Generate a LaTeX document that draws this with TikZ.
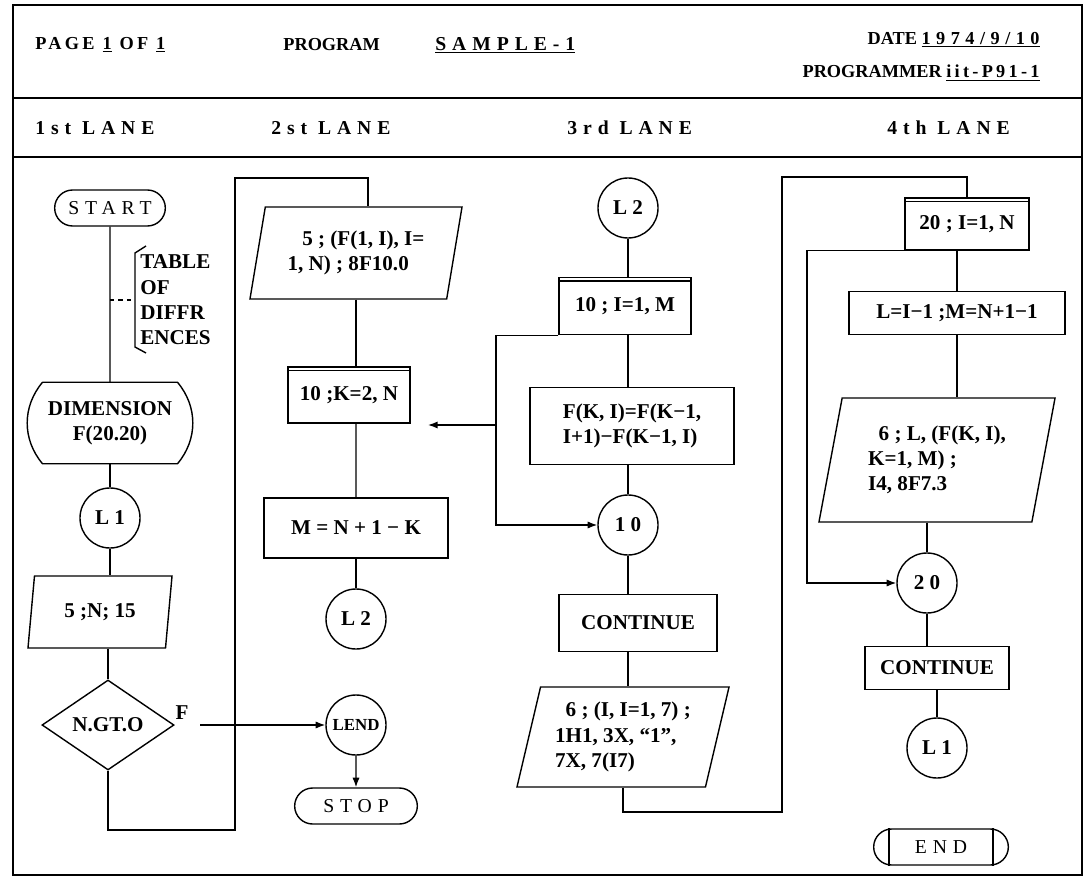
\documentclass[tikz,border=0pt]{standalone}
\usepackage{fontspec}
\setmainfont{Liberation Serif}
\newfontfamily\wide[LetterSpace=30]{Liberation Serif}
\newfontfamily\semiwide[LetterSpace=18]{Liberation Serif}
\usetikzlibrary{shapes.geometric,shapes.misc,arrows.meta}

\begin{document}
\begin{tikzpicture}[x=0.025cm,y=-0.025cm,line width=1pt,
    font=\fontsize{15}{18}\selectfont\bfseries,
    >={Latex[length=2.4mm,width=1.8mm]},
    term/.style={draw,rounded rectangle,minimum width=#1,minimum height=0.9cm,
      font=\wide\fontsize{14}{16}\selectfont},
    conn/.style={draw,circle,minimum size=1.5cm,inner sep=0pt},
    proc/.style 2 args={draw,minimum width=#1,minimum height=#2,inner sep=2pt},
    io/.style 2 args={draw,trapezium,trapezium left angle=72,
      trapezium right angle=108,trapezium stretches body,
      minimum width=#1,minimum height=#2,inner sep=1pt,align=left},
    hd/.style={font=\semiwide\fontsize{13}{15}\selectfont\bfseries,anchor=west},
    lanehd/.style={font=\wide\fontsize{14}{16}\selectfont\bfseries,anchor=west}]
  \useasboundingbox (0,0) rectangle (1089,885);
  % form
  \draw (13,5) rectangle (1082,875);
  \draw (13,98) -- (1082,98);
  \draw (13,157) -- (1082,157);
  \node[hd] (page) at (30,45) {PAGE \underline{1} OF \underline{1}};
  \node[anchor=west,font=\fontsize{13}{15}\selectfont\bfseries] (prog) at (278,45) {PROGRAM};
  \node[lanehd] (name) at (430,45) {\underline{SAMPLE-1}};
  \node[anchor=east,font=\fontsize{13}{15}\selectfont\bfseries] (date) at (1045,40) {DATE \underline{\wide 1974/9/10}};
  \node[anchor=east,font=\fontsize{13}{15}\selectfont\bfseries] (coder) at (1045,73) {PROGRAMMER \underline{\semiwide iit-P91-1}};
  \node[lanehd] (lane1) at (30,128) {1st LANE};
  \node[lanehd] (lane2) at (266,128) {2st LANE};
  \node[lanehd] (lane3) at (562,128) {3rd LANE};
  \node[lanehd] (lane4) at (882,128) {4th LANE};

  % 1st lane
  \node[term=3cm] (start) at (110,208) {START};
  \node[minimum width=3.1cm,minimum height=2cm,align=center] (dim) at (110,423) {DIMENSION\\F(20.20)};
  \node[conn] (l1a) at (110,518) {L 1};
  \node[io={3.6cm}{1.8cm}] (inp1) at (100,612) {5 ;N; 15};
  \node[draw,diamond,minimum width=3.3cm,minimum height=2.25cm,inner sep=0pt] (test) at (108,725) {N.GT.O};
  \node (fl) at (182,713) {F};
  \node[align=left,anchor=west] (note) at (135,300) {TABLE\\OF\\DIFFR\\ENCES};

  % 2nd lane
  \node[io={5.3cm}{2.3cm}] (inp2) at (356,253) {\hspace{0.7em}5 ; (F(1, I), I=\\1, N) ; 8F10.0};
  \node[proc={3.05cm}{1.4cm}] (kloop) at (349,395) {10 ;K=2, N};
  \node[proc={4.6cm}{1.5cm}] (mset) at (356,528) {M = N + 1 − K};
  \node[conn] (l2a) at (356,619) {L 2};
  \node[conn,font=\fontsize{12}{14}\selectfont\bfseries] (lend) at (356,725) {LEND};
  \node[term=3.3cm] (stop) at (356,806) {STOP};

  % 3rd lane
  \node[conn] (l2b) at (628,208) {L 2};
  \node[proc={3.3cm}{1.43cm}] (iloop) at (625,306) {10 ; I=1, M};
  \node[proc={5.1cm}{1.93cm},align=left] (fdiff) at (632,426) {F(K, I)=F(K−1,\\I+1)−F(K−1, I)};
  \node[conn] (c10) at (628,525) {1 0};
  \node[proc={3.95cm}{1.43cm}] (cont1) at (638,623) {CONTINUE};
  \node[io={5.3cm}{2.5cm}] (out1) at (623,737) {\hspace{0.5em}6 ; (I, I=1, 7) ;\\1H1, 3X, “1”,\\7X, 7(I7)};

  % 4th lane
  \node[proc={3.1cm}{1.3cm}] (nloop) at (967,224) {20 ; I=1, N};
  \node[proc={5.4cm}{1.08cm}] (lset) at (957,313) {L=I−1 ;M=N+1−1};
  \node[io={5.9cm}{3.1cm}] (out2) at (937,460) {\hspace{0.5em}6 ; L, (F(K, I),\\K=1, M) ;\\I4, 8F7.3};
  \node[conn] (c20) at (927,583) {2 0};
  \node[proc={3.6cm}{1.08cm}] (cont2) at (937,668) {CONTINUE};
  \node[conn] (l1b) at (937,748) {L 1};
  \node[term=3.6cm] (endt) at (941,847) {END};

  \coordinate (ja) at (235,830);
  \coordinate (jb) at (368,178);
  \coordinate (fa) at (200,725);
  \coordinate (jc) at (496,425);
  \coordinate (ktip) at (428,425);
  \coordinate (jd) at (782,812);
  \coordinate (je) at (967,177);
  \coordinate (jf) at (807,400);

  % shapes drawn by hand
  \draw (dim.north west) -- (dim.north east) to[bend left=40] (dim.south east)
    -- (dim.south west) to[bend left=40] (dim.north west);
  \draw (146,246) -- (135,253) -- (135,347) -- (146,353);
  \foreach \b in {kloop,iloop,nloop}
    \draw ([yshift=-3pt]\b.north west) -- ([yshift=-3pt]\b.north east);
  \draw ([xshift=-1.3cm]endt.north) -- ([xshift=-1.3cm]endt.south)
    ([xshift=1.3cm]endt.north) -- ([xshift=1.3cm]endt.south);

  % flow lines
  \draw (start) -- (dim);
  \draw[dashed] (note.west -| start.south) -- (note.west);
  \draw (dim) -- (l1a);
  \draw (l1a) -- (l1a |- inp1.north);
  \draw (inp1.south -| test.north) -- (test.north);
  \draw (test.south) |- (ja) |- (jb) -- (inp2.north -| jb);
  \draw[->] (fa) -- (lend);
  \draw (inp2.south) -- (inp2.south |- kloop.north);
  \draw (inp2.south |- kloop.south) -- (mset);
  \draw (mset) -- (l2a);
  \draw[->] (lend) -- (stop);
  \draw (l2b) -- (l2b |- iloop.north);
  \draw (l2b |- iloop.south) -- (l2b |- fdiff.north);
  \draw (l2b |- fdiff.south) -- (c10);
  \draw (c10) -- (c10 |- cont1.north);
  \draw (c10 |- cont1.south) -- (c10 |- out1.north);
  \draw[->] (iloop.south west) -| (jc) |- (c10.west);
  \draw[->] (jc) -- (ktip);
  \draw (out1.south) |- (jd) |- (je) -- (nloop);
  \draw (lset.north |- nloop.south) -- (lset.north);
  \draw (lset.south) -- (lset.south |- out2.north);
  \draw (c20 |- out2.south) -- (c20);
  \draw (c20) -- (c20 |- cont2.north);
  \draw (cont2.south) -- (l1b);
  \draw[->] (nloop.south west) -| (jf) |- (c20.west);
\end{tikzpicture}
\end{document}
